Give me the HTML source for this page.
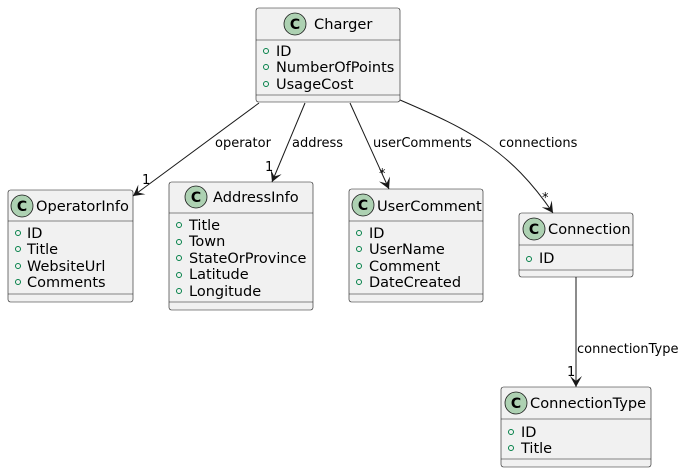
<!DOCTYPE html>
<html><head><style>body{margin:0;background:#fff}svg{display:block}text{font-family:"DejaVu Sans","Liberation Sans",sans-serif;fill:#000}</style></head><body>
<svg width="686" height="473" xmlns="http://www.w3.org/2000/svg">
<defs><marker id="a" viewBox="0 0 12 12" refX="11" refY="6" markerWidth="12" markerHeight="12" orient="auto" markerUnits="userSpaceOnUse"><path d="M0,0 L11,6 L0,12 L5,6 Z" fill="#181818"/></marker></defs>
<g fill="#F1F1F1" stroke="#181818" stroke-width="0.6">
<rect x="256" y="8" width="144" height="94" rx="2.5"/>
<rect x="8" y="190" width="125" height="112" rx="2.5"/>
<rect x="169" y="182" width="144" height="128" rx="2.5"/>
<rect x="349" y="189" width="134" height="113" rx="2.5"/>
<rect x="519" y="213" width="114" height="64" rx="2.5"/>
<rect x="501" y="387" width="150" height="80" rx="2.5"/>
</g>
<g stroke="#181818" stroke-width="0.6">
<line x1="256" y1="40" x2="400" y2="40"/><line x1="256" y1="95" x2="400" y2="95"/>
<line x1="8" y1="221" x2="133" y2="221"/><line x1="8" y1="294" x2="133" y2="294"/>
<line x1="169" y1="213" x2="313" y2="213"/><line x1="169" y1="302" x2="313" y2="302"/>
<line x1="349" y1="221" x2="483" y2="221"/><line x1="349" y1="294" x2="483" y2="294"/>
<line x1="519" y1="245" x2="633" y2="245"/><line x1="519" y1="270" x2="633" y2="270"/>
<line x1="501" y1="419" x2="651" y2="419"/><line x1="501" y1="459" x2="651" y2="459"/>
</g>
<g fill="#ADD1B2" stroke="#181818" stroke-width="0.8">
<circle cx="295" cy="24" r="11"/><circle cx="22" cy="206" r="11"/><circle cx="196" cy="197" r="11"/>
<circle cx="363" cy="205" r="11"/><circle cx="534" cy="229" r="11"/><circle cx="516" cy="403" r="11"/>
</g>
<g font-size="14" font-weight="bold" text-anchor="middle">
<text x="295" y="29">C</text><text x="22" y="211">C</text><text x="196" y="202">C</text>
<text x="363" y="210">C</text><text x="534" y="234">C</text><text x="516" y="408">C</text>
</g>
<g font-size="14.6">
<text x="314" y="29">Charger</text><text x="36" y="211">OperatorInfo</text><text x="213" y="202">AddressInfo</text>
<text x="377" y="211">UserComment</text><text x="548" y="234">Connection</text><text x="530" y="408">ConnectionType</text>
</g>
<g fill="none" stroke="#038048" stroke-width="1">
<circle cx="266" cy="51" r="2.5"/><circle cx="266" cy="67" r="2.5"/><circle cx="266" cy="84" r="2.5"/>
<circle cx="18" cy="233" r="2.5"/><circle cx="18" cy="249" r="2.5"/><circle cx="18" cy="266" r="2.5"/><circle cx="18" cy="282" r="2.5"/>
<circle cx="179" cy="225" r="2.5"/><circle cx="179" cy="242" r="2.5"/><circle cx="179" cy="258" r="2.5"/><circle cx="179" cy="275" r="2.5"/><circle cx="179" cy="291" r="2.5"/>
<circle cx="359" cy="233" r="2.5"/><circle cx="359" cy="249" r="2.5"/><circle cx="359" cy="266" r="2.5"/><circle cx="359" cy="282" r="2.5"/>
<circle cx="529" cy="259" r="2.5"/>
<circle cx="511" cy="432" r="2.5"/><circle cx="511" cy="448" r="2.5"/>
</g>
<g font-size="14.5">
<text x="276" y="56">ID</text><text x="276" y="72">NumberOfPoints</text><text x="276" y="89">UsageCost</text>
<text x="27" y="238">ID</text><text x="27" y="254">Title</text><text x="27" y="271">WebsiteUrl</text><text x="27" y="287">Comments</text>
<text x="189" y="230">Title</text><text x="189" y="246">Town</text><text x="189" y="263">StateOrProvince</text><text x="189" y="279">Latitude</text><text x="189" y="296">Longitude</text>
<text x="369" y="238">ID</text><text x="369" y="254">UserName</text><text x="369" y="271">Comment</text><text x="369" y="287">DateCreated</text>
<text x="539" y="263">ID</text>
<text x="521" y="437">ID</text><text x="521" y="453">Title</text>
</g>
<g fill="none" stroke="#181818" stroke-width="1" marker-end="url(#a)">
<line x1="259" y1="103" x2="133" y2="196"/>
<line x1="305" y1="103" x2="272" y2="182"/>
<line x1="350" y1="103" x2="389" y2="189"/>
<path d="M400,100 C470,130 510,150 553,213"/>
<line x1="576" y1="277" x2="576" y2="387"/>
</g>
<g font-size="13">
<text x="215" y="147">operator</text><text x="142" y="184">1</text>
<text x="292" y="147">address</text><text x="265" y="171">1</text>
<text x="373" y="147">userComments</text><text x="379" y="178">*</text>
<text x="499" y="147">connections</text><text x="542" y="202">*</text>
<text x="577" y="353">connectionType</text><text x="567" y="376">1</text>
</g>
</svg>
</body></html>
